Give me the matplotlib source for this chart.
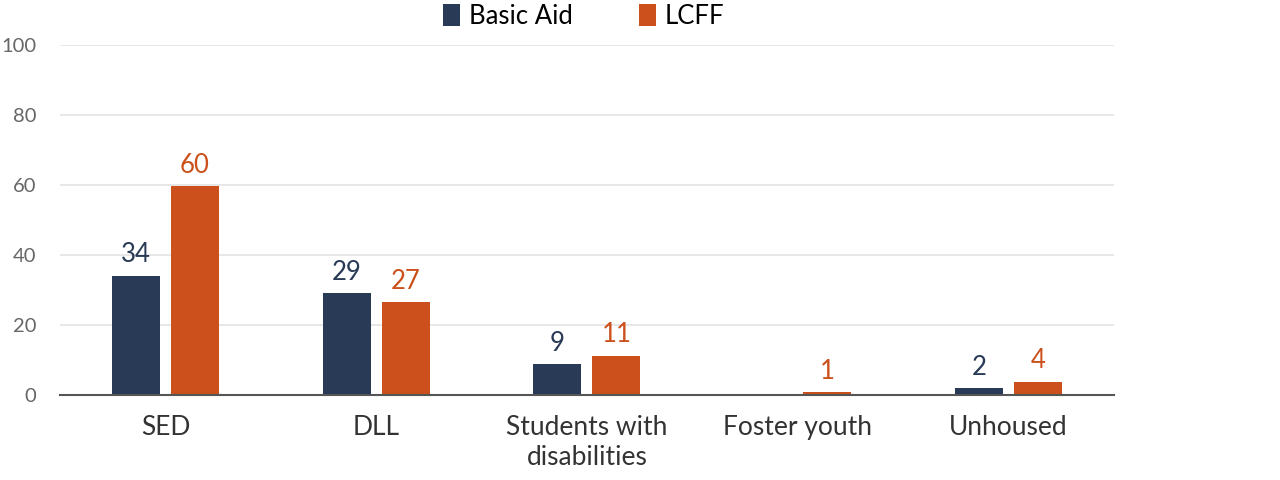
import numpy as np
import matplotlib.pyplot as plt

# data
categories = ["SED", "DLL", "Students with\ndisabilities", "Foster youth", "Unhoused"]
basic_aid = [34.0, 29.0, 8.7, 0.0, 1.9]
lcff = [59.7, 26.5, 11.1, 0.7, 3.7]
basic_aid_labels = ["34", "29", "9", "", "2"]
lcff_labels = ["60", "27", "11", "1", "4"]

navy = "#283a55"
orange = "#cb501b"

plt.rcParams['font.family'] = ['Lato', 'DejaVu Sans']

fig = plt.figure(figsize=(12.8, 4.8), dpi=100)
ax = fig.add_axes([0.047, 0.178, 0.823, 0.728])

x = np.arange(len(categories))
w = 0.228
off = 0.14
b1 = ax.bar(x - off, basic_aid, w, color=navy, label="Basic Aid", zorder=3)
b2 = ax.bar(x + off, lcff, w, color=orange, label="LCFF", zorder=3)

for rect, lab in zip(b1, basic_aid_labels):
    ax.annotate(lab, (rect.get_x() + rect.get_width() / 2, rect.get_height()),
                xytext=(0, 6), textcoords="offset points", ha="center", va="bottom",
                fontsize=18.5, color=navy)
for rect, lab in zip(b2, lcff_labels):
    ax.annotate(lab, (rect.get_x() + rect.get_width() / 2, rect.get_height()),
                xytext=(0, 6), textcoords="offset points", ha="center", va="bottom",
                fontsize=18.5, color=orange)

ax.set_xlim(-0.5, len(categories) - 0.5)
ax.set_ylim(0, 100)
ax.set_yticks(range(0, 101, 20))
ax.set_xticks(x)
ax.set_xticklabels(categories, fontsize=19, color="#333333", linespacing=1.25)
ax.tick_params(axis="y", labelsize=14.5, labelcolor="#666666", length=0, pad=17)
ax.tick_params(axis="x", length=0, pad=15)
for lbl in ax.get_yticklabels():
    lbl.set_horizontalalignment("right")

ax.grid(axis="y", color="#e3e3e3", linewidth=1.2, zorder=0)
for s in ["top", "right", "left"]:
    ax.spines[s].set_visible(False)
ax.spines["bottom"].set_color("#555555")
ax.spines["bottom"].set_linewidth(1.5)
ax.spines["bottom"].set_zorder(4)

fig.legend(loc="upper center", bbox_to_anchor=(0.456, 1.04), ncol=2, frameon=False,
           fontsize=18.5, handlelength=0.65, handleheight=0.95, handletextpad=0.35,
           columnspacing=2.6)

fig.savefig("out.png", dpi=100)
